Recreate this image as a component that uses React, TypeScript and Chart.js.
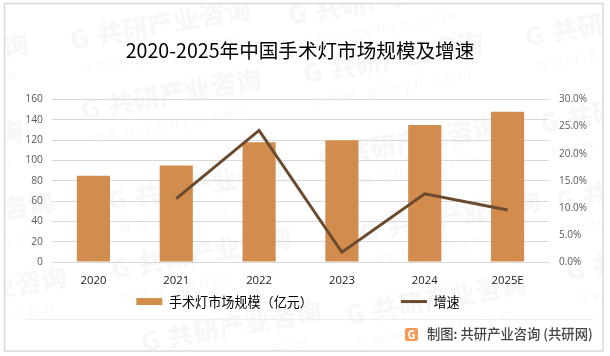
import React, { useEffect, useRef } from "react";
import { Chart, registerables } from "chart.js";

Chart.register(...registerables);

const categories = ["2020", "2021", "2022", "2023", "2024", "2025E"];
const marketSize = [85, 95, 118, 120, 135, 148];
const growth = [null, 11.7, 24.3, 1.8, 12.6, 9.6];
const titleText = "2020-2025年中国手术灯市场规模及增速";
const barLabel = "手术灯市场规模（亿元）";
const lineLabel = "增速";
const sourceText = "制图: 共研产业咨询 (共研网)";
const watermarkMain = "共研产业咨询";
const watermarkSub = "w w w . g o n y n . c o m";
const watermarkStarts: [number, number][] = [
  [72, 50], [-150, 85], [290, 25], [527, 47], [83, 120], [-155, 172], [305, 84],
  [-125, 243], [110, 211], [320, 168], [542, 133], [-112, 318], [113, 279],
  [362, 242], [558, 211], [568, 281], [143, 352], [348, 325],
];

const FONT = '"Noto Sans CJK SC", "Noto Sans", sans-serif';
const NUM = '"Open Sans", "Noto Sans CJK SC", sans-serif';

const chromePlugin = {
  id: "chrome",
  afterLayout(chart: any) {
    const lg = chart.legend;
    if (lg) {
      lg.top = 295 - 88;
      lg.left = 0;
      lg.right = 596;
    }
    const t = chart.titleBlock;
    if (t) {
      t.left = 0;
      t.right = 600;
    }
  },
  beforeDraw(chart: any) {
    const c = chart.ctx;
    c.save();
    c.fillStyle = "#ffffff";
    c.fillRect(0, 0, 610, 356);
    for (const [x, y] of watermarkStarts) {
      c.save();
      c.translate(x, y);
      c.rotate(-0.18);
      c.fillStyle = "rgba(0,0,0,0.032)";
      c.textBaseline = "alphabetic";
      c.font = `900 26px ${FONT}`;
      c.fillText("G", 0, 0);
      c.fillText(watermarkMain, 27, 0);
      c.font = `15px ${FONT}`;
      c.fillText(watermarkSub, 6, 24);
      c.restore();
    }
    c.fillStyle = "#ffffff";
    c.fillRect(0, 0, 4, 356);
    c.fillRect(0, 0, 610, 3);
    c.fillRect(604, 0, 6, 356);
    c.fillRect(0, 352, 610, 4);
    c.strokeStyle = "#D9D9D9";
    c.lineWidth = 1.5;
    c.strokeRect(4.5, 3.5, 598.5, 347.5);
    c.strokeStyle = "#EDEDED";
    c.lineWidth = 1;
    c.beginPath();
    c.moveTo(26, 319.5);
    c.lineTo(593, 319.5);
    c.stroke();
    c.fillStyle = "#F39A5B";
    c.beginPath();
    c.roundRect(405, 328, 13, 13, 2);
    c.fill();
    c.fillStyle = "#ffffff";
    c.font = `bold 11px ${FONT}`;
    c.textAlign = "center";
    c.textBaseline = "middle";
    c.fillText("G", 411.5, 334.5);
    c.textAlign = "left";
    c.fillStyle = "#444444";
    c.font = `500 13.3px ${FONT}`;
    c.fillText(sourceText, 427, 333.5);
    c.restore();
  },
};

export default function App() {
  const ref = useRef<HTMLCanvasElement>(null);
  useEffect(() => {
    const chart = new Chart(ref.current!, {
      type: "bar",
      plugins: [chromePlugin],
      data: {
        labels: categories,
        datasets: [
          {
            type: "line",
            label: lineLabel,
            data: growth,
            yAxisID: "y2",
            borderColor: "#6B4A2E",
            backgroundColor: "#6B4A2E",
            borderWidth: 3,
            pointRadius: 0,
            tension: 0,
            order: 1,
            pointStyle: "line",
          } as any,
          {
            type: "bar",
            label: barLabel,
            data: marketSize,
            yAxisID: "y",
            backgroundColor: "#D18C4E",
            categoryPercentage: 1,
            barPercentage: 0.4,
            order: 2,
            pointStyle: "rect",
          } as any,
        ],
      },
      options: {
        responsive: false,
        animation: false,
        devicePixelRatio: 1,
        layout: { padding: { top: 0, bottom: 0, left: 0, right: 0 } },
        plugins: {
          tooltip: { enabled: false },
          title: {
            display: true,
            text: titleText,
            color: "#000000",
            font: { family: FONT, size: 19.6, weight: "normal" },
            padding: { top: 39, bottom: 37 },
          },
          legend: {
            position: "bottom",
            maxHeight: 64,
            reverse: true,
            labels: {
              usePointStyle: true,
              boxHeight: 7,
              pointStyleWidth: 26,
              padding: 88,
              color: "#000000",
              font: { family: FONT, size: 13.1 },
            },
          },
        },
        scales: {
          x: {
            grid: { display: false, drawTicks: false },
            border: { color: "#D9D9D9" },
            ticks: { color: "#222222", font: { family: NUM, size: 11.3 }, padding: 12 },
            afterFit(s: any) {
              s.height = 30;
            },
          },
          y: {
            position: "left",
            min: 0,
            max: 160,
            grid: { color: "#D9D9D9", drawTicks: false },
            border: { display: false },
            ticks: { stepSize: 20, color: "#595959", font: { family: NUM, size: 10.3 }, padding: 9 },
            afterFit(s: any) {
              s.width = 52;
            },
          },
          y2: {
            position: "right",
            min: 0,
            max: 30,
            grid: { display: false, drawTicks: false },
            border: { display: false },
            ticks: {
              stepSize: 5,
              color: "#595959",
              font: { family: NUM, size: 10 },
              padding: 10,
              callback: (v: any) => Number(v).toFixed(1) + "%",
            },
            afterFit(s: any) {
              s.width = 61;
            },
          },
        },
      } as any,
    });
    return () => chart.destroy();
  }, []);
  return (
    <canvas
      ref={ref}
      width={610}
      height={356}
      style={{ position: "absolute", left: 0, top: 0, width: 610, height: 356 }}
    />
  );
}
